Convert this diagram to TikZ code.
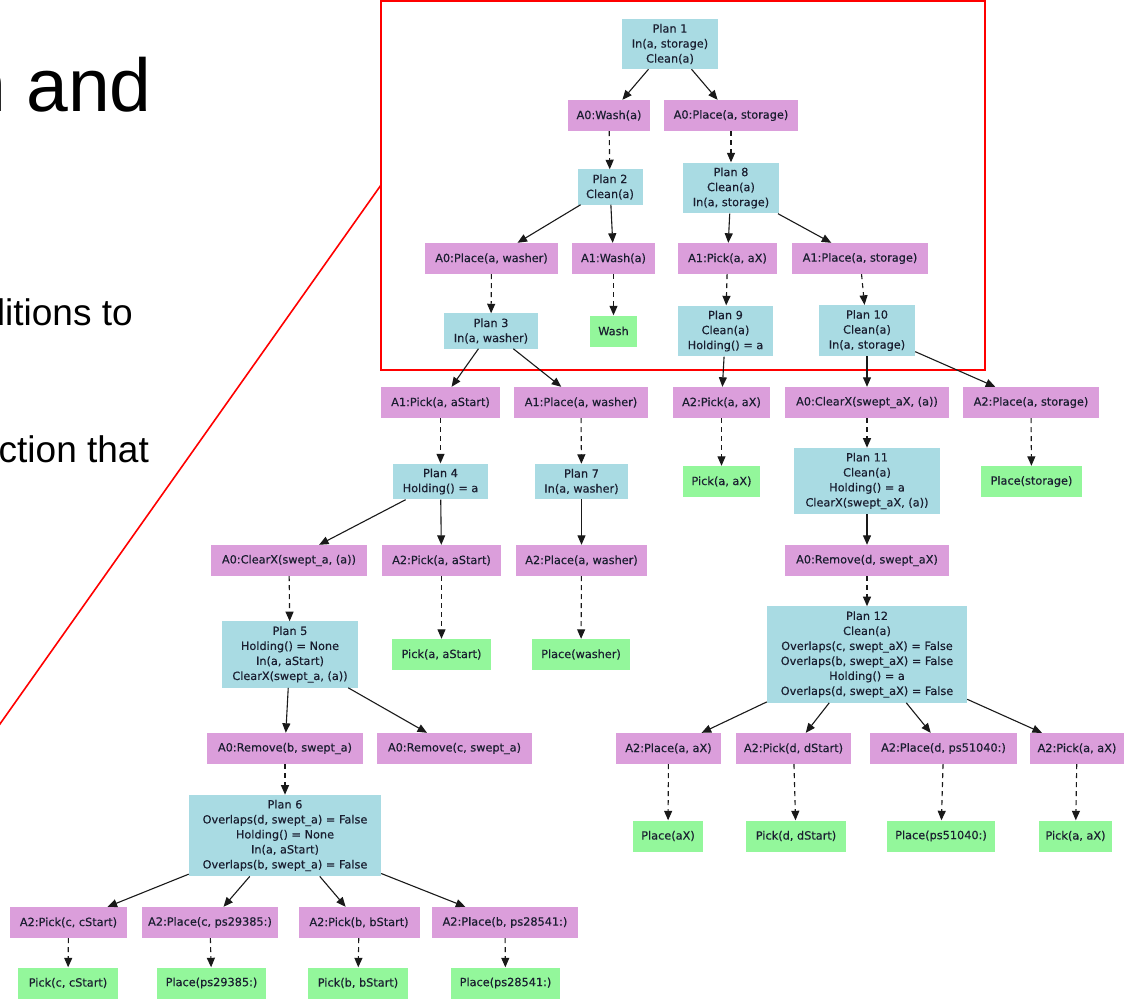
\documentclass[tikz,border=0pt]{standalone}
\usepackage{fontspec}
\setmainfont{Liberation Sans}
\newfontfamily\gvfont[FakeBold=0.35]{DejaVu Sans}
\usetikzlibrary{arrows.meta}
\definecolor{planblue}{HTML}{A9DBE3}
\definecolor{actplum}{HTML}{DB9EDB}
\definecolor{primgreen}{HTML}{93F79B}
\definecolor{gvtext}{HTML}{1A1E30}
\definecolor{zoomred}{HTML}{FF0000}
\begin{document}
\begin{tikzpicture}[x=1pt,y=-1pt,
  gvnode/.style={rectangle, inner xsep=3pt, inner ysep=5pt, minimum height=31pt,
    align=center, font=\gvfont\fontsize{11.3}{15}\selectfont, text=gvtext},
  plan/.style={gvnode, fill=planblue},
  act/.style={gvnode, fill=actplum},
  prim/.style={gvnode, fill=primgreen},
  solidedge/.style={-{Triangle[length=9.5pt,width=8pt]}, line width=1.1pt, black!90},
  dashedge/.style={solidedge, dash pattern=on 5pt off 4pt},
  slidetext/.style={inner sep=0pt, text=black},
  zoomframe/.style={draw=zoomred, line width=1.6pt}
]
\useasboundingbox (0,0) rectangle (1124,999);
\fill[white] (0,0) rectangle (1124,999);

% slide text (clipped by page edge)
\node[slidetext, anchor=base east, font=\fontsize{75}{80}\selectfont] (t1) at (152,111) {n and};
\node[slidetext, anchor=base west, font=\fontsize{37}{40}\selectfont] (t2) at (-15.6,325) {ditions to};
\node[slidetext, anchor=base west, font=\fontsize{37}{40}\selectfont] (t3) at (-1.5,462) {ction that};

% zoom frame
\draw[zoomframe] (381,1) rectangle (985,370);
\coordinate (zl1) at (381,185);
\coordinate (zl2) at (-5,731);
\draw[zoomframe] (zl1) -- (zl2);

% ---- nodes ----
\node[plan, minimum width=96pt] (p1) at (670,44) {Plan 1\\In(a, storage)\\Clean(a)};
\node[act, minimum width=82pt] (a0wash) at (609,115.5) {A0:Wash(a)};
\node[act, minimum width=134pt] (a0placest) at (731,115.5) {A0:Place(a, storage)};
\node[plan, minimum width=65pt] (p2) at (610,187) {Plan 2\\Clean(a)};
\node[plan, minimum width=96pt] (p8) at (731,188) {Plan 8\\Clean(a)\\In(a, storage)};
\node[act, minimum width=133pt] (a0placewa) at (491.5,258.5) {A0:Place(a, washer)};
\node[act, minimum width=83pt] (a1wash) at (613.5,258.5) {A1:Wash(a)};
\node[act, minimum width=99pt] (a1pickax) at (727.5,258.5) {A1:Pick(a, aX)};
\node[act, minimum width=136pt] (a1placest) at (860,258.5) {A1:Place(a, storage)};
\node[plan, minimum width=94pt] (p3) at (491,331) {Plan 3\\In(a, washer)};
\node[prim, minimum width=47pt] (wash) at (613.5,331) {Wash};
\node[plan, minimum width=95pt] (p9) at (725.5,331) {Plan 9\\Clean(a)\\Holding() = a};
\node[plan, minimum width=96pt] (p10) at (867,330.5) {Plan 10\\Clean(a)\\In(a, storage)};

\node[act, minimum width=119pt] (a1pickas) at (440.5,402.5) {A1:Pick(a, aStart)};
\node[act, minimum width=134pt] (a1placewa) at (581,402.5) {A1:Place(a, washer)};
\node[act, minimum width=97pt] (a2pickax) at (721.5,402.5) {A2:Pick(a, aX)};
\node[act, minimum width=164pt] (a0clearxax) at (867,402.5) {A0:ClearX(swept\_aX, (a))};
\node[act, minimum width=136pt] (a2placest) at (1031,402.5) {A2:Place(a, storage)};

\node[plan, minimum width=95pt] (p4) at (440.5,481.5) {Plan 4\\Holding() = a};
\node[plan, minimum width=93pt] (p7) at (581.5,481.5) {Plan 7\\In(a, washer)};
\node[prim, minimum width=77pt] (gpickax) at (721.5,481.5) {Pick(a, aX)};
\node[plan, minimum width=146pt] (p11) at (867,481) {Plan 11\\Clean(a)\\Holding() = a\\ClearX(swept\_aX, (a))};
\node[prim, minimum width=101pt] (gplacest) at (1031.5,481.5) {Place(storage)};

\node[act, minimum width=156pt] (a0clearxa) at (289,560.5) {A0:ClearX(swept\_a, (a))};
\node[act, minimum width=119pt] (a2pickas) at (441.5,560.5) {A2:Pick(a, aStart)};
\node[act, minimum width=131pt] (a2placewa) at (581.5,560.5) {A2:Place(a, washer)};
\node[act, minimum width=164pt] (a0removed) at (867,560.5) {A0:Remove(d, swept\_aX)};

\node[plan, minimum width=136pt] (p5) at (290,654.5) {Plan 5\\Holding() = None\\In(a, aStart)\\ClearX(swept\_a, (a))};
\node[prim, minimum width=99pt] (gpickas) at (441.5,654.5) {Pick(a, aStart)};
\node[prim, minimum width=98pt] (gplacewa) at (581,654.5) {Place(washer)};
\node[plan, minimum width=200pt] (p12) at (867,654.5) {Plan 12\\Clean(a)\\Overlaps(c, swept\_aX) = False\\Overlaps(b, swept\_aX) = False\\Holding() = a\\Overlaps(d, swept\_aX) = False};

\node[act, minimum width=156pt] (a0removeb) at (285,748.5) {A0:Remove(b, swept\_a)};
\node[act, minimum width=155pt] (a0removec) at (454.5,748.5) {A0:Remove(c, swept\_a)};
\node[act, minimum width=105pt] (a2placeaax) at (668.5,748.5) {A2:Place(a, aX)};
\node[act, minimum width=115pt] (a2pickdd) at (793.5,748.5) {A2:Pick(d, dStart)};
\node[act, minimum width=147pt] (a2placedps) at (943.5,748.5) {A2:Place(d, ps51040:)};
\node[act, minimum width=94pt] (a2pickaxb) at (1077,748.5) {A2:Pick(a, aX)};

\node[plan, minimum width=192pt] (p6) at (285,835.5) {Plan 6\\Overlaps(d, swept\_a) = False\\Holding() = None\\In(a, aStart)\\Overlaps(b, swept\_a) = False};
\node[prim, minimum width=70pt] (gplaceax) at (668,836) {Place(aX)};
\node[prim, minimum width=100pt] (gpickdd) at (796,836) {Pick(d, dStart)};
\node[prim, minimum width=108pt] (gplaceps51) at (941,836) {Place(ps51040:)};
\node[prim, minimum width=73pt] (gpickaxb) at (1075.5,836) {Pick(a, aX)};

\node[act, minimum width=117pt] (a2pickcc) at (68.5,922.5) {A2:Pick(c, cStart)};
\node[act, minimum width=136pt] (a2placecps) at (210,922.5) {A2:Place(c, ps29385:)};
\node[act, minimum width=121pt] (a2pickbb) at (359,922.5) {A2:Pick(b, bStart)};
\node[act, minimum width=146pt] (a2placebps) at (505,922.5) {A2:Place(b, ps28541:)};

\node[prim, minimum width=100pt] (gpickcc) at (68,983) {Pick(c, cStart)};
\node[prim, minimum width=109pt] (gplaceps29) at (211.5,983) {Place(ps29385:)};
\node[prim, minimum width=100pt] (gpickbb) at (358,983) {Pick(b, bStart)};
\node[prim, minimum width=109pt] (gplaceps28) at (505.5,983) {Place(ps28541:)};

% ---- solid edges (plan -> action) ----
\draw[solidedge] (p1) -- (a0wash);
\draw[solidedge] (p1) -- (a0placest);
\draw[solidedge] (p2) -- (a0placewa);
\draw[solidedge] (p2) -- (a1wash);
\draw[solidedge] (p8) -- (a1pickax);
\draw[solidedge] (p8) -- (a1placest);
\draw[solidedge] (p3) -- (a1pickas);
\draw[solidedge] (p3) -- (a1placewa);
\draw[solidedge] (p9) -- (a2pickax);
\draw[solidedge] (p10) -- (a0clearxax);
\draw[solidedge] (p10) -- (a2placest);
\draw[solidedge] (p4) -- (a0clearxa);
\draw[solidedge] (p4) -- (a2pickas);
\draw[solidedge] (p7) -- (a2placewa);
\draw[solidedge] (p11) -- (a0removed);
\draw[solidedge] (p5) -- (a0removeb);
\draw[solidedge] (p5) -- (a0removec);
\draw[solidedge] (p12) -- (a2placeaax);
\draw[solidedge] (p12) -- (a2pickdd);
\draw[solidedge] (p12) -- (a2placedps);
\draw[solidedge] (p12) -- (a2pickaxb);
\draw[solidedge] (p6) -- (a2pickcc);
\draw[solidedge] (p6) -- (a2placecps);
\draw[solidedge] (p6) -- (a2pickbb);
\draw[solidedge] (p6) -- (a2placebps);

% ---- dashed edges (action -> refinement) ----
\draw[dashedge] (a0wash) -- (p2);
\draw[dashedge] (a0placest) -- (p8);
\draw[dashedge] (a0placewa) -- (p3);
\draw[dashedge] (a1wash) -- (wash);
\draw[dashedge] (a1pickax) -- (p9);
\draw[dashedge] (a1placest) -- (p10);
\draw[dashedge] (a1pickas) -- (p4);
\draw[dashedge] (a1placewa) -- (p7);
\draw[dashedge] (a2pickax) -- (gpickax);
\draw[dashedge] (a0clearxax) -- (p11);
\draw[dashedge] (a2placest) -- (gplacest);
\draw[dashedge] (a0clearxa) -- (p5);
\draw[dashedge] (a2pickas) -- (gpickas);
\draw[dashedge] (a2placewa) -- (gplacewa);
\draw[dashedge] (a0removed) -- (p12);
\draw[dashedge] (a0removeb) -- (p6);
\draw[dashedge] (a2placeaax) -- (gplaceax);
\draw[dashedge] (a2pickdd) -- (gpickdd);
\draw[dashedge] (a2placedps) -- (gplaceps51);
\draw[dashedge] (a2pickaxb) -- (gpickaxb);
\draw[dashedge] (a2pickcc) -- (gpickcc);
\draw[dashedge] (a2placecps) -- (gplaceps29);
\draw[dashedge] (a2pickbb) -- (gpickbb);
\draw[dashedge] (a2placebps) -- (gplaceps28);
\end{tikzpicture}
\end{document}
